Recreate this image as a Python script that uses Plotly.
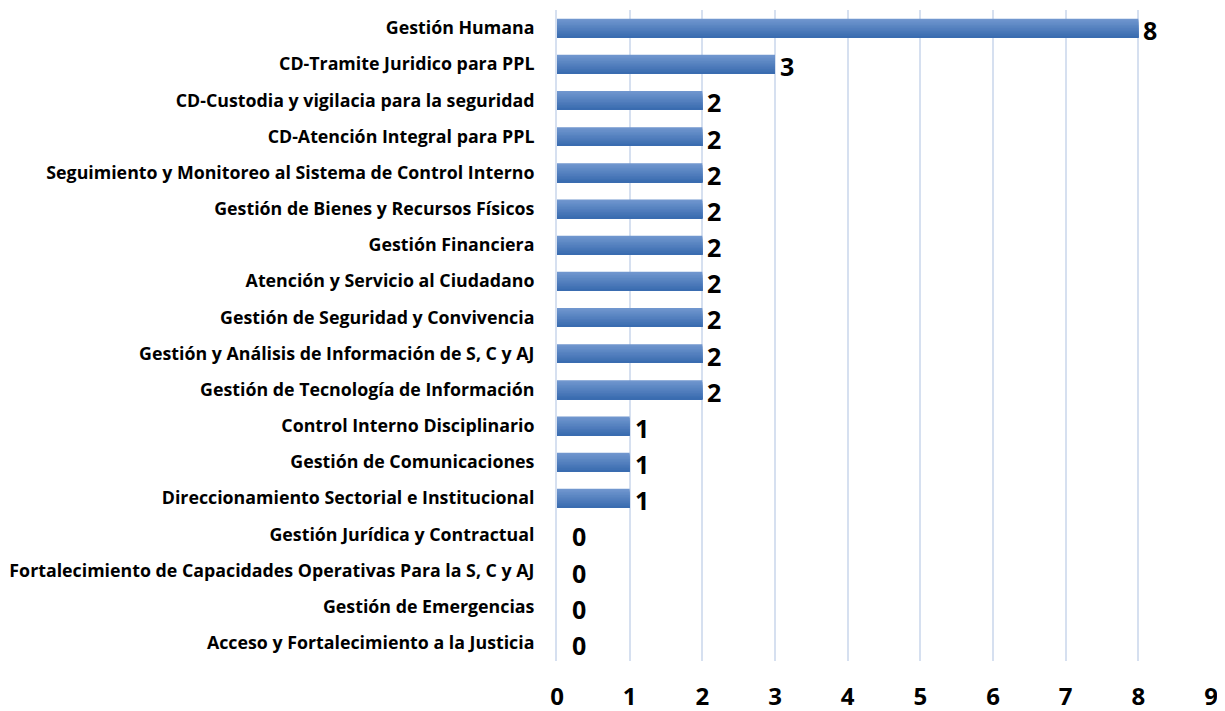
import plotly.graph_objects as go

categories = [
    "Gestión Humana",
    "CD-Tramite Juridico para PPL",
    "CD-Custodia y vigilacia para la seguridad",
    "CD-Atención Integral para PPL",
    "Seguimiento y Monitoreo al Sistema de Control Interno",
    "Gestión de Bienes y Recursos Físicos",
    "Gestión Financiera",
    "Atención y Servicio al Ciudadano",
    "Gestión de Seguridad y Convivencia",
    "Gestión y Análisis de Información de S, C y AJ",
    "Gestión de Tecnología de Información",
    "Control Interno Disciplinario",
    "Gestión de Comunicaciones",
    "Direccionamiento Sectorial e Institucional",
    "Gestión Jurídica y Contractual",
    "Fortalecimiento de Capacidades Operativas Para la S, C y AJ",
    "Gestión de Emergencias",
    "Acceso y Fortalecimiento a la Justicia",
]
values = [8, 3, 2, 2, 2, 2, 2, 2, 2, 2, 2, 1, 1, 1, 0, 0, 0, 0]
x_ticks = list(range(0, 10))

FONT = "Open Sans"
fig = go.Figure()

# gradient bars: layered bars, each shorter from the top, darker going down
bar_w = 0.52
n = 12
top = (0x70, 0x96, 0xce)
bot = (0x3a, 0x6c, 0xb0)
h = bar_w / n
for i in range(n):
    t = i / (n - 1)
    c = tuple(round(top[k] + (bot[k] - top[k]) * t) for k in range(3))
    fig.add_trace(go.Bar(
        y=categories, x=values, orientation="h",
        width=bar_w - i * h,
        offset=-bar_w / 2,
        marker=dict(color="rgb(%d,%d,%d)" % c, line=dict(width=0)),
        showlegend=False, hoverinfo="skip" if i else "x+y",
    ))

for cat, v in zip(categories, values):
    fig.add_annotation(
        x=v, y=cat, text="<b>%d</b>" % v, showarrow=False,
        xanchor="left", yanchor="middle", xshift=(13 if v == 0 else 3), yshift=-2,
        font=dict(family=FONT, size=25, color="black"),
    )

# the page body adds an 8px offset, so the figure is 8px smaller
fig.update_layout(
    width=1217, height=703,
    margin=dict(l=549, r=14, t=2, b=50, autoexpand=False),
    plot_bgcolor="white", paper_bgcolor="white",
    barmode="overlay",
    font=dict(family=FONT, color="black"),
)
fig.update_xaxes(
    range=[0, 9], tickvals=x_ticks, ticktext=["<b>%d</b>" % t for t in x_ticks],
    showgrid=True, gridcolor="#d6e0f0", gridwidth=2,
    zeroline=False, showline=False, automargin=False,
    ticks="outside", ticklen=14, tickcolor="rgba(0,0,0,0)",
    tickfont=dict(family=FONT, size=24, color="black"),
)
fig.update_yaxes(
    categoryorder="array", categoryarray=categories[::-1],
    range=[-0.5, len(categories) - 0.5],
    showgrid=False, zeroline=False, automargin=False,
    showline=True, linecolor="#d6e0f0", linewidth=2,
    ticks="outside", ticklen=17, tickcolor="rgba(0,0,0,0)",
    tickfont=dict(family=FONT, size=17.8, color="black"),
    ticktext=["<b>%s</b>" % c for c in categories[::-1]],
    tickvals=categories[::-1],
)
fig.write_html("out.html")
